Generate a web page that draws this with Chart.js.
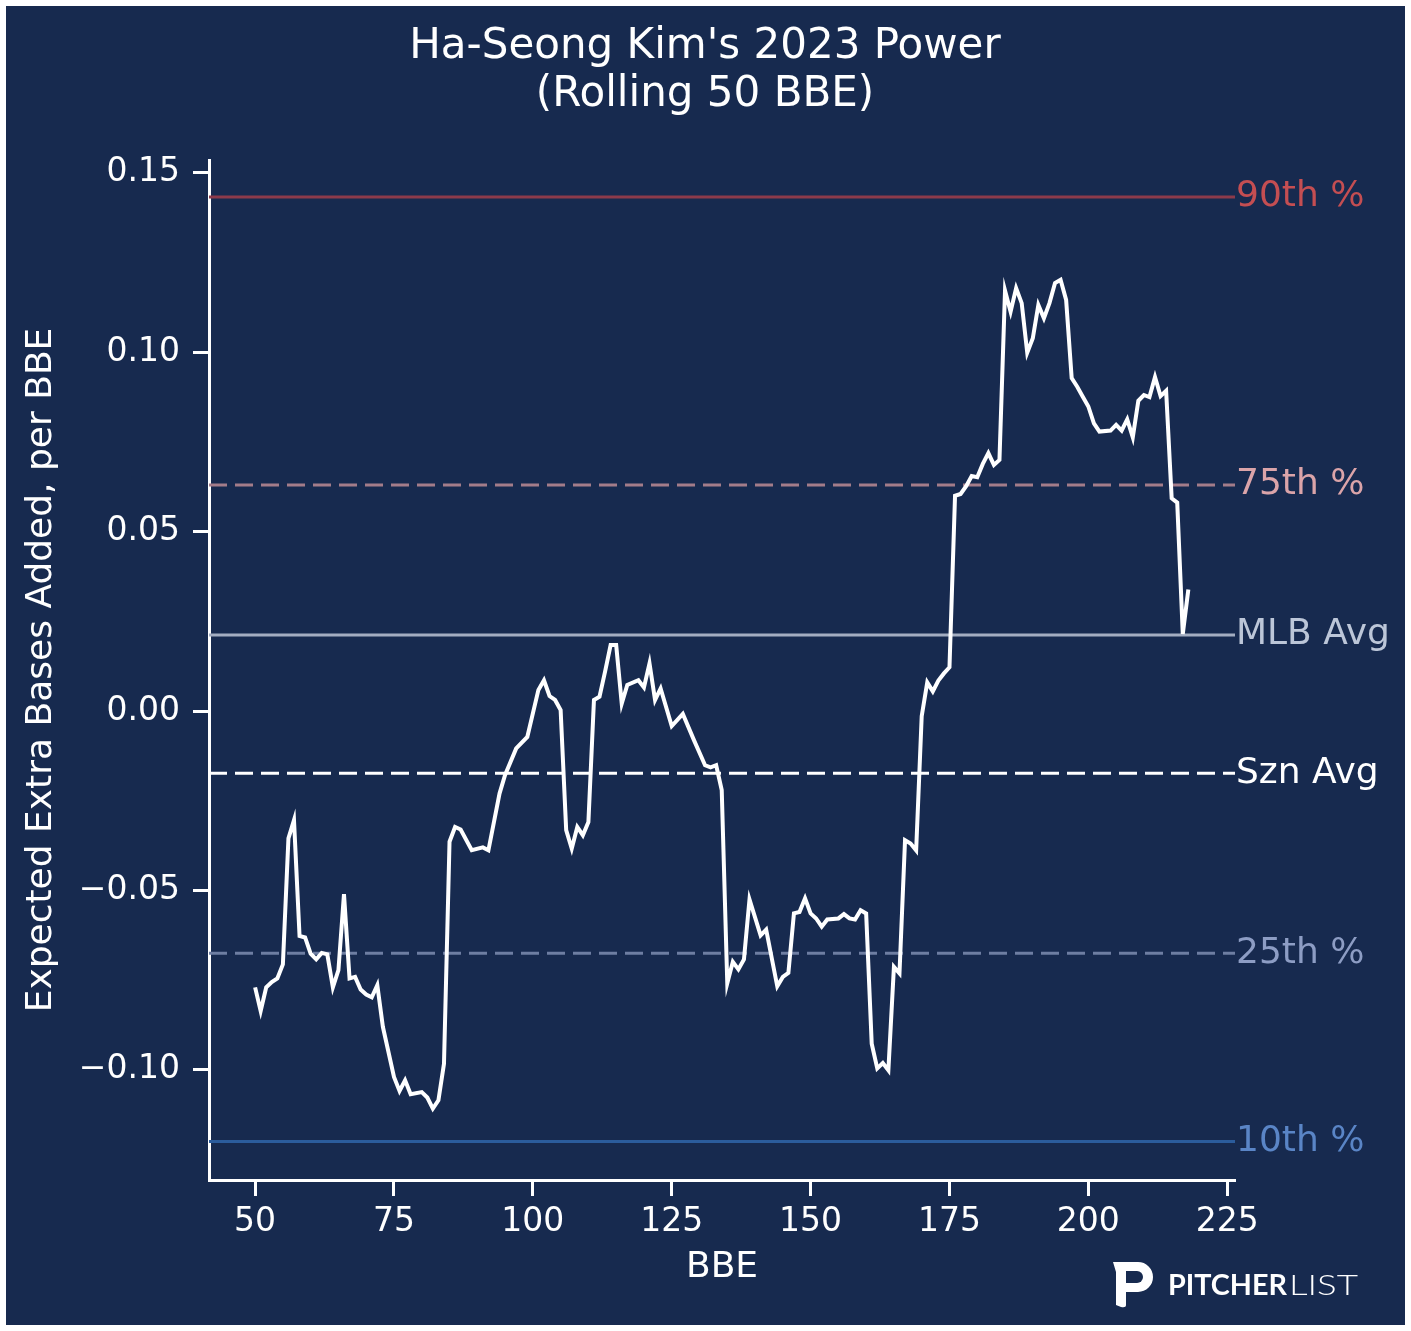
<!DOCTYPE html>
<html lang="en">
<head>
<meta charset="UTF-8">
<title>Ha-Seong Kim's 2023 Power</title>
<script src="https://cdn.jsdelivr.net/npm/chart.js"></script>
<style>
    body {
        margin: 0;
        padding: 0;
        background: #fff;
    }
    #wrap {
        width: 1411px;
        height: 1331px;
    }
</style>
</head>
<body>

<div id="wrap"><canvas id="powerChart" width="1411" height="1331"></canvas></div>

<script>
// rolling 50 BBE values
const bbe = [
    50, 51, 52, 53, 54, 55, 56, 57, 58, 59, 60, 61, 62, 63, 64, 65, 66, 67, 68, 69,
    70, 71, 72, 73, 75, 76, 77, 78, 80, 81, 82, 83, 84, 85, 86, 87, 89, 91, 92, 94,
    95, 97, 99, 101, 102, 103, 104, 105, 106, 107, 108, 109, 110, 111, 112, 113, 114, 115, 116, 117,
    119, 120, 121, 122, 123, 125, 127, 129, 131, 132, 133, 134, 135, 136, 137, 138, 139, 141, 142, 144,
    145, 146, 147, 148, 149, 150, 151, 152, 153, 155, 156, 157, 158, 159, 160, 161, 162, 163, 164, 165,
    166, 167, 168, 169, 170, 171, 172, 173, 174, 175, 176, 177, 178, 179, 180, 181, 182, 183, 184, 185,
    186, 187, 188, 189, 190, 191, 192, 193, 194, 195, 196, 197, 198, 199, 200, 201, 202, 204, 205, 206,
    207, 208, 209, 210, 211, 212, 213, 214, 215, 216, 217, 218
];
const xeba = [
    -0.0770, -0.0836, -0.0770, -0.0755, -0.0745, -0.0706, -0.0355, -0.0304, -0.0627, -0.0631,
    -0.0676, -0.0692, -0.0674, -0.0678, -0.0770, -0.0722, -0.0510, -0.0745, -0.0741, -0.0776,
    -0.0790, -0.0798, -0.0764, -0.0880, -0.1020, -0.1059, -0.1029, -0.1068, -0.1062, -0.1077,
    -0.1108, -0.1085, -0.0983, -0.0364, -0.0323, -0.0330, -0.0388, -0.0380, -0.0388, -0.0230,
    -0.0178, -0.0104, -0.0072, 0.0059, 0.0086, 0.0042, 0.0031, 0.0003, -0.0332, -0.0383,
    -0.0323, -0.0346, -0.0309, 0.0031, 0.0040, 0.0110, 0.0184, 0.0184, 0.0021, 0.0073,
    0.0086, 0.0066, 0.0133, 0.0031, 0.0063, -0.0042, -0.0008, -0.0081, -0.0151, -0.0157,
    -0.0151, -0.0220, -0.0759, -0.0699, -0.0720, -0.0692, -0.0525, -0.0625, -0.0609, -0.0767,
    -0.0741, -0.0730, -0.0564, -0.0560, -0.0522, -0.0564, -0.0578, -0.0601, -0.0581, -0.0578,
    -0.0566, -0.0578, -0.0581, -0.0555, -0.0564, -0.0927, -0.0996, -0.0981, -0.1001, -0.0713,
    -0.0731, -0.0360, -0.0369, -0.0388, -0.0014, 0.0080, 0.0055, 0.0085, 0.0105, 0.0122,
    0.0600, 0.0605, 0.0627, 0.0655, 0.0652, 0.0689, 0.0719, 0.0686, 0.0700, 0.1172,
    0.1113, 0.1179, 0.1137, 0.0999, 0.1039, 0.1132, 0.1095, 0.1137, 0.1193, 0.1202,
    0.1146, 0.0928, 0.0904, 0.0876, 0.0849, 0.0802, 0.0779, 0.0782, 0.0798, 0.0782,
    0.0813, 0.0763, 0.0865, 0.0881, 0.0875, 0.0931, 0.0878, 0.0893, 0.0593, 0.0581,
    0.0215, 0.0339
];

const xTicks = [50, 75, 100, 125, 150, 175, 200, 225];
const yTicks = [-0.10, -0.05, 0.00, 0.05, 0.10, 0.15];
const xMin = 41.7, xMax = 226.4;
const yMin = -0.1307, yMax = 0.1536;

// percentile / average reference lines
const refNames = ['90th %', '75th %', 'MLB Avg', 'Szn Avg', '25th %', '10th %'];
const refValues = [0.1433, 0.0630, 0.0212, -0.0173, -0.0675, -0.1200];
const refLineColors = ['#8c3a4b', '#a37c8a', '#a3adc1', '#ffffff', '#6e7ea2', '#2b5c9c'];
const refTextColors = ['#c44e52', '#dba4a9', '#bcc6d8', '#ffffff', '#8d9dc4', '#5a85c6'];
const refDashed = [false, true, false, true, true, false];

const NAVY = '#172a4f';
const FONT = "'DejaVu Sans', sans-serif";

const datasets = [{
    label: 'Rolling 50 BBE',
    data: bbe.map((x, i) => ({ x: x, y: xeba[i] })),
    borderColor: '#ffffff',
    borderWidth: 4,
    pointRadius: 0,
    tension: 0,
    fill: false
}];
refValues.forEach((v, i) => {
    datasets.push({
        label: refNames[i],
        data: [{ x: xMin, y: v }, { x: xMax, y: v }],
        borderColor: refLineColors[i],
        borderWidth: 3,
        borderDash: refDashed[i] ? [18, 8] : [],
        pointRadius: 0,
        fill: false
    });
});

// background, titles, right side labels and logo
const decorations = {
    id: 'decorations',
    beforeDraw(chart) {
        const ctx = chart.ctx;
        ctx.save();
        ctx.fillStyle = '#ffffff';
        ctx.fillRect(0, 0, chart.width, chart.height);
        ctx.fillStyle = NAVY;
        ctx.fillRect(6, 6, chart.width - 12, chart.height - 12);
        ctx.restore();
    },
    afterDraw(chart) {
        const ctx = chart.ctx;
        const area = chart.chartArea;
        const ys = chart.scales.y;
        ctx.save();
        ctx.fillStyle = '#ffffff';
        ctx.textAlign = 'center';
        ctx.textBaseline = 'middle';
        ctx.font = '42px ' + FONT;
        ctx.fillText("Ha-Seong Kim's 2023 Power", 705, 47);
        ctx.fillText('(Rolling 50 BBE)', 705, 95);

        ctx.font = '36px ' + FONT;
        ctx.fillText('BBE', (area.left + area.right) / 2, 1268);
        ctx.save();
        ctx.translate(42, (area.top + area.bottom) / 2);
        ctx.rotate(-Math.PI / 2);
        ctx.fillText('Expected Extra Bases Added, per BBE', 0, 0);
        ctx.restore();

        ctx.textAlign = 'left';
        ctx.font = '36px ' + FONT;
        refNames.forEach((name, i) => {
            ctx.fillStyle = refTextColors[i];
            ctx.fillText(name, area.right + 1, ys.getPixelForValue(refValues[i]));
        });

        // PITCHERLIST logo
        ctx.fillStyle = '#ffffff';
        ctx.beginPath();
        ctx.moveTo(1113, 1262);
        ctx.lineTo(1138, 1262);
        ctx.arc(1138, 1277, 15, -Math.PI / 2, Math.PI / 2);
        ctx.lineTo(1126, 1292);
        ctx.lineTo(1126, 1305);
        ctx.quadraticCurveTo(1126, 1308, 1121, 1307);
        ctx.lineTo(1116, 1305);
        ctx.lineTo(1116, 1272);
        ctx.lineTo(1113, 1262);
        ctx.closePath();
        ctx.fill();
        ctx.fillStyle = NAVY;
        ctx.beginPath();
        ctx.moveTo(1126, 1271);
        ctx.lineTo(1137, 1271);
        ctx.arc(1137, 1277, 6, -Math.PI / 2, Math.PI / 2);
        ctx.lineTo(1126, 1283);
        ctx.closePath();
        ctx.fill();

        ctx.fillStyle = '#ffffff';
        ctx.textBaseline = 'alphabetic';
        fitText(ctx, 'PITCHER', "bold 28px 'Lato', sans-serif", 1168, 1295, 119);
        fitText(ctx, 'LIST', "300 28px 'Lato', sans-serif", 1289, 1295, 69);
        ctx.restore();
    }
};

function fitText(ctx, text, font, x, y, width) {
    ctx.font = font;
    const w = ctx.measureText(text).width;
    ctx.save();
    ctx.translate(x, y);
    ctx.scale(width / w, 1);
    ctx.fillText(text, 0, 0);
    ctx.restore();
}

function axisStyle() {
    return {
        type: 'linear',
        border: { display: true, color: '#ffffff', width: 3 },
        grid: {
            display: true,
            drawOnChartArea: false,
            drawTicks: true,
            tickLength: 16,
            tickWidth: 3,
            tickColor: '#ffffff',
            color: '#ffffff'
        },
        ticks: {
            color: '#ffffff',
            font: { family: FONT, size: 33 }
        }
    };
}

const xAxis = axisStyle();
xAxis.min = xMin;
xAxis.max = xMax;
xAxis.ticks.padding = 7;
xAxis.ticks.maxRotation = 0;
xAxis.afterBuildTicks = s => { s.ticks = xTicks.map(v => ({ value: v })); };
xAxis.afterFit = s => { s.height = 151; };

const yAxis = axisStyle();
yAxis.min = yMin;
yAxis.max = yMax;
yAxis.ticks.padding = 13;
yAxis.ticks.callback = v => (v < 0 ? '\u2212' : '') + Math.abs(v).toFixed(2);
yAxis.afterBuildTicks = s => { s.ticks = yTicks.map(v => ({ value: v })); };
yAxis.afterFit = s => { s.width = 209; };

new Chart(document.getElementById('powerChart').getContext('2d'), {
    type: 'line',
    data: { datasets: datasets },
    options: {
        responsive: false,
        animation: false,
        layout: { padding: { top: 160, right: 176, bottom: 0, left: 0 } },
        plugins: {
            legend: { display: false },
            tooltip: { enabled: false },
            title: { display: false }
        },
        scales: { x: xAxis, y: yAxis }
    },
    plugins: [decorations]
});
</script>

</body>
</html>
